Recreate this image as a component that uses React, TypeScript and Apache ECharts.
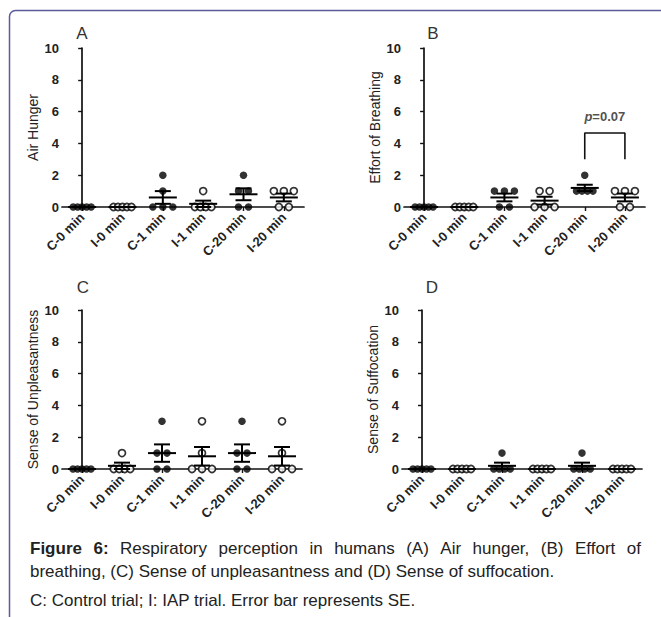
import React, { useEffect, useRef } from "react";
import * as echarts from "echarts";

// ---- data ----
const categories = ["C-0 min", "I-0 min", "C-1 min", "I-1 min", "C-20 min", "I-20 min"];
const yTicks = [0, 2, 4, 6, 8, 10];

// individual subject scores per group (5 subjects)
const airHunger = [
  [0, 0, 0, 0, 0],
  [0, 0, 0, 0, 0],
  [2, 1, 0, 0, 0],
  [1, 0, 0, 0, 0],
  [2, 1, 1, 0, 0],
  [1, 1, 1, 0, 0],
];
const effortOfBreathing = [
  [0, 0, 0, 0, 0],
  [0, 0, 0, 0, 0],
  [1, 1, 1, 0, 0],
  [1, 1, 0, 0, 0],
  [2, 1, 1, 1, 1],
  [1, 1, 1, 0, 0],
];
const senseOfUnpleasantness = [
  [0, 0, 0, 0, 0],
  [1, 0, 0, 0, 0],
  [3, 1, 1, 0, 0],
  [3, 1, 0, 0, 0],
  [3, 1, 1, 0, 0],
  [3, 1, 0, 0, 0],
];
const senseOfSuffocation = [
  [0, 0, 0, 0, 0],
  [0, 0, 0, 0, 0],
  [1, 0, 0, 0, 0],
  [0, 0, 0, 0, 0],
  [1, 0, 0, 0, 0],
  [0, 0, 0, 0, 0],
];

// significance bracket in panel B
const bracketFrom = 4;
const bracketTo = 5;
const bracketBase = 3;
const bracketTop = 4.65;
const pValueText = "0.07";
const pValueY = 5.7;

const captionLine1 = "Respiratory perception in humans (A) Air hunger, (B) Effort of";
const captionLine2 = "breathing, (C) Sense of unpleasantness and (D) Sense of suffocation.";
const captionLine3 = "C: Control trial; I: IAP trial. Error bar represents SE.";

const FONT = '"Liberation Sans", Arial, Helvetica, sans-serif';

type Panel = {
  data: number[][];
  title: string;
  letter: string;
  grid: { left: number; top: number; width: number; height: number };
  letterPos: [number, number];
};

const panels: Panel[] = [
  { data: airHunger, title: "Air Hunger", letter: "A", grid: { left: 62, top: 48, width: 242, height: 159 }, letterPos: [82, 33] },
  { data: effortOfBreathing, title: "Effort of Breathing", letter: "B", grid: { left: 404, top: 48, width: 241, height: 159 }, letterPos: [433, 33] },
  { data: senseOfUnpleasantness, title: "Sense of Unpleasantness", letter: "C", grid: { left: 62, top: 310, width: 240, height: 159 }, letterPos: [83, 287] },
  { data: senseOfSuffocation, title: "Sense of Suffocation", letter: "D", grid: { left: 402, top: 310, width: 240, height: 159 }, letterPos: [432, 287] },
];

function spacingFor(n: number) {
  if (n <= 1) return 0;
  if (n <= 3) return 10;
  if (n === 4) return 5.5;
  return 4.5;
}

function spreadPoints(vals: number[], idx: number, bandPx: number) {
  const counts = new Map<number, number>();
  vals.forEach((v) => counts.set(v, (counts.get(v) || 0) + 1));
  const seen = new Map<number, number>();
  return vals.map((v) => {
    const n = counts.get(v) || 1;
    const k = seen.get(v) || 0;
    seen.set(v, k + 1);
    const off = (k - (n - 1) / 2) * spacingFor(n);
    return [idx + off / bandPx, v];
  });
}

function meanSE(vals: number[]) {
  const n = vals.length;
  const m = vals.reduce((a, b) => a + b, 0) / n;
  const sd = Math.sqrt(vals.reduce((a, b) => a + (b - m) * (b - m), 0) / (n - 1));
  return [m, sd / Math.sqrt(n)];
}

function measure(text: string, font: string) {
  const c = document.createElement("canvas").getContext("2d")!;
  c.font = font;
  return c.measureText(text).width;
}

export default function App() {
  const ref = useRef<HTMLDivElement>(null);

  useEffect(() => {
    if (!ref.current) return;
    const chart = echarts.init(ref.current, null, { renderer: "svg" });

    const grids: any[] = [];
    const xAxes: any[] = [];
    const yAxes: any[] = [];
    const series: any[] = [];
    const graphics: any[] = [];

    panels.forEach((p, pi) => {
      grids.push({ ...p.grid, containLabel: false });
      const bandPx = p.grid.width / categories.length;
      xAxes.push({
        type: "category",
        gridIndex: pi,
        data: categories,
        boundaryGap: true,
        axisLine: { show: true, lineStyle: { color: "#111", width: 1.7 } },
        axisTick: { show: true, alignWithLabel: true, length: 4, lineStyle: { color: "#111", width: 1.4 } },
        axisLabel: { rotate: 45, margin: 8, fontSize: 13, fontWeight: "bold", color: "#222", fontFamily: FONT, interval: 0 },
        splitLine: { show: false },
      });
      xAxes.push({
        type: "value",
        gridIndex: pi,
        min: -0.5,
        max: categories.length - 0.5,
        show: false,
        splitLine: { show: false },
      });
      yAxes.push({
        type: "value",
        gridIndex: pi,
        min: yTicks[0],
        max: yTicks[yTicks.length - 1],
        interval: 2,
        name: p.title,
        nameLocation: "middle",
        nameGap: 22,
        nameTextStyle: { fontSize: 14, color: "#222", fontFamily: FONT },
        axisLine: { show: true, lineStyle: { color: "#111", width: 1.7 } },
        axisTick: { show: true, length: 4, lineStyle: { color: "#111", width: 1.4 } },
        axisLabel: { margin: 3, fontSize: 13, fontWeight: "bold", color: "#222", fontFamily: FONT },
        splitLine: { show: false },
      });

      const filled: number[][] = [];
      const open: number[][] = [];
      const bars: number[][] = [];
      p.data.forEach((vals, gi) => {
        const pts = spreadPoints(vals, gi, bandPx);
        if (categories[gi].startsWith("C")) filled.push(...pts);
        else open.push(...pts);
        const [m, se] = meanSE(vals);
        bars.push([gi, m, m - se, m + se]);
      });

      const xi = pi * 2 + 1;
      series.push({
        type: "scatter",
        xAxisIndex: xi,
        yAxisIndex: pi,
        data: filled,
        symbol: "circle",
        symbolSize: 7.5,
        clip: false,
        itemStyle: { color: "#000" },
        z: 3,
      });
      series.push({
        type: "scatter",
        xAxisIndex: xi,
        yAxisIndex: pi,
        data: open,
        symbol: "circle",
        symbolSize: 7,
        clip: false,
        itemStyle: { color: "#fff", borderColor: "#000", borderWidth: 1.7 },
        z: 3,
      });
      series.push({
        type: "custom",
        xAxisIndex: xi,
        yAxisIndex: pi,
        data: bars,
        clip: false,
        encode: { x: 0, y: [1, 2, 3] },
        z: 4,
        renderItem: (params: any, api: any) => {
          const x = api.value(0);
          const pm = api.coord([x, api.value(1)]);
          const pl = api.coord([x, api.value(2)]);
          const ph = api.coord([x, api.value(3)]);
          const st = { stroke: "#000", lineWidth: 2 };
          return {
            type: "group",
            children: [
              { type: "line", shape: { x1: pm[0] - 14, y1: pm[1], x2: pm[0] + 14, y2: pm[1] }, style: st },
              { type: "line", shape: { x1: pm[0], y1: pl[1], x2: pm[0], y2: ph[1] }, style: st },
              { type: "line", shape: { x1: pm[0] - 8, y1: pl[1], x2: pm[0] + 8, y2: pl[1] }, style: st },
              { type: "line", shape: { x1: pm[0] - 8, y1: ph[1], x2: pm[0] + 8, y2: ph[1] }, style: st },
            ],
          };
        },
      });

      if (p.letter === "B") {
        series.push({
          type: "line",
          xAxisIndex: xi,
          yAxisIndex: pi,
          data: [
            [bracketFrom, bracketBase],
            [bracketFrom, bracketTop],
            [bracketTo, bracketTop],
            [bracketTo, bracketBase],
          ],
          symbol: "none",
          lineStyle: { color: "#111", width: 1.6 },
          z: 2,
        });
        series.push({
          type: "scatter",
          xAxisIndex: xi,
          yAxisIndex: pi,
          data: [[(bracketFrom + bracketTo) / 2, pValueY]],
          symbolSize: 0,
          label: {
            show: true,
            position: "inside",
            formatter: "{i|p}=" + pValueText,
            fontSize: 13,
            fontWeight: "bold",
            color: "#222",
            fontFamily: FONT,
            rich: { i: { fontStyle: "italic", fontSize: 13, fontWeight: "bold", color: "#222", fontFamily: FONT } },
          },
        });
      }

      graphics.push({
        type: "text",
        x: p.letterPos[0],
        y: p.letterPos[1],
        style: { text: p.letter, fontSize: 17, fill: "#333", fontFamily: FONT, textAlign: "center", textVerticalAlign: "middle" },
      });
    });

    // frame
    graphics.push({
      type: "rect",
      shape: { x: 9.5, y: 10.5, width: 900, height: 900, r: 6 },
      style: { fill: "none", stroke: "#5a5a9c", lineWidth: 1.5 },
    });

    // caption (first line justified)
    const capLeft = 30;
    const capRight = 641;
    const fs = 17;
    const boldFont = `bold ${fs}px "Liberation Sans"`;
    const normFont = `${fs}px "Liberation Sans"`;

    const words: { t: string; bold: boolean }[] = [
      { t: "Figure", bold: true },
      { t: "6:", bold: true },
      ...captionLine1.split(" ").map((t) => ({ t, bold: false })),
    ];
    const widths = words.map((w) => measure(w.t, w.bold ? boldFont : normFont));
    const total = widths.reduce((a, b) => a + b, 0);
    const gap = (capRight - capLeft - total) / (words.length - 1);
    let cx = capLeft;
    words.forEach((w, i) => {
      graphics.push({
        type: "text",
        x: cx,
        y: 548,
        style: {
          text: w.t,
          fontSize: fs,
          fontWeight: w.bold ? "bold" : "normal",
          fill: "#222",
          fontFamily: FONT,
          textAlign: "left",
          textVerticalAlign: "middle",
        },
      });
      cx += widths[i] + gap;
    });
    graphics.push({
      type: "text",
      x: capLeft,
      y: 571,
      style: { text: captionLine2, fontSize: fs, fill: "#222", fontFamily: FONT, textAlign: "left", textVerticalAlign: "middle" },
    });
    graphics.push({
      type: "text",
      x: capLeft,
      y: 600,
      style: { text: captionLine3, fontSize: fs, fill: "#222", fontFamily: FONT, textAlign: "left", textVerticalAlign: "middle" },
    });

    chart.setOption({
      animation: false,
      backgroundColor: "#fff",
      textStyle: { fontFamily: FONT },
      grid: grids,
      xAxis: xAxes,
      yAxis: yAxes,
      series,
      graphic: graphics,
    });

    return () => chart.dispose();
  }, []);

  return (
    <div
      ref={ref}
      style={{ position: "absolute", left: 0, top: 0, width: 661, height: 617 }}
    />
  );
}
